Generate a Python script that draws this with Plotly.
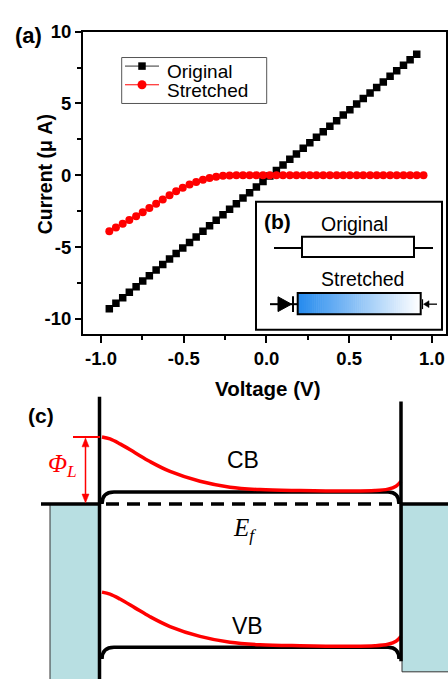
import plotly.graph_objects as go

W, H = 448, 679

# ---------------- data (panel a) ----------------
voltage = [-0.950, -0.910, -0.869, -0.829, -0.788, -0.748, -0.708, -0.667, -0.627, -0.586,
           -0.546, -0.506, -0.465, -0.425, -0.384, -0.344, -0.304, -0.263, -0.223, -0.182,
           -0.142, -0.102, -0.061, -0.021, 0.020, 0.060, 0.100, 0.141, 0.181, 0.222,
           0.262, 0.302, 0.343, 0.383, 0.424, 0.464, 0.504, 0.545, 0.585, 0.626,
           0.666, 0.706, 0.747, 0.787, 0.828, 0.868, 0.908, 0.949]

current_original = [-9.30, -8.91, -8.53, -8.14, -7.76, -7.37, -6.99, -6.60, -6.22, -5.83,
                    -5.45, -5.06, -4.68, -4.29, -3.90, -3.52, -3.13, -2.75, -2.36, -1.98,
                    -1.59, -1.21, -0.82, -0.44, -0.05, 0.34, 0.72, 1.11, 1.49, 1.88,
                    2.26, 2.65, 3.03, 3.42, 3.80, 4.19, 4.57, 4.96, 5.35, 5.73,
                    6.12, 6.50, 6.89, 7.27, 7.66, 8.04, 8.43]

current_stretched = [-3.90, -3.64, -3.38, -3.12, -2.85, -2.57, -2.28, -1.98, -1.68, -1.39,
                     -1.11, -0.86, -0.64, -0.46, -0.31, -0.19, -0.10, -0.04, -0.01, 0.0,
                     0.0, 0.0, 0.0, 0.0, 0.0, 0.0, 0.0, 0.0, 0.0, 0.0,
                     0.0, 0.0, 0.0, 0.0, 0.0, 0.0, 0.0, 0.0, 0.0, 0.0,
                     0.0, 0.0, 0.0, 0.0, 0.0, 0.0, 0.0, 0.0]

series_names = ["Original", "Stretched"]
x_ticks = [-1.0, -0.5, 0.0, 0.5, 1.0]
x_ticktext = ["-1.0", "-0.5", "0.0", "0.5", "1.0"]
y_ticks = [-10, -5, 0, 5, 10]
y_ticktext = ["-10", "-5", "0", "5", "10"]

# ---------------- schematic (panel c) ----------------
cb_red_x = [102, 110, 120, 135, 150, 170, 200, 230, 260, 300, 350, 375, 388, 396, 401]
cb_red_y = [433, 435, 440, 449, 458, 468, 478, 484, 486.5, 487.5, 488, 487.5, 486, 483, 478]
band_gap = 157.7

SANS = "Liberation Sans"
SERIF = "Liberation Serif"

fig = go.Figure()

# panel (a) data
fig.add_trace(go.Scatter(x=voltage[:len(current_original)], y=current_original,
                         mode="lines+markers", name=series_names[0],
                         line=dict(color="black", width=1),
                         marker=dict(symbol="square", size=7.5, color="black"),
                         xaxis="x", yaxis="y", showlegend=False))
fig.add_trace(go.Scatter(x=voltage, y=current_stretched,
                         mode="lines+markers", name=series_names[1],
                         line=dict(color="red", width=1),
                         marker=dict(symbol="circle", size=8, color="red"),
                         xaxis="x", yaxis="y", showlegend=False))

# legend glyphs (drawn in pixel space)
legend_rows = [(56, "black", "square", 7.5), (75, "red", "circle", 9)]
for yy, col, sym, sz in legend_rows:
    fig.add_trace(go.Scatter(x=[125, 159], y=[yy, yy], mode="lines",
                             line=dict(color="#333" if col == "black" else col, width=1),
                             xaxis="x2", yaxis="y2", showlegend=False, hoverinfo="skip"))
    fig.add_trace(go.Scatter(x=[142], y=[yy], mode="markers",
                             marker=dict(symbol=sym, size=sz, color=col),
                             xaxis="x2", yaxis="y2", showlegend=False, hoverinfo="skip"))

# band edges (red, stretched)
fig.add_trace(go.Scatter(x=cb_red_x, y=cb_red_y, mode="lines", line=dict(color="#ff0000", width=3.5, shape="spline"),
                         xaxis="x2", yaxis="y2", showlegend=False, hoverinfo="skip"))
fig.add_trace(go.Scatter(x=cb_red_x, y=[v + band_gap for v in cb_red_y], mode="lines",
                         line=dict(color="#ff0000", width=3.5, shape="spline"),
                         xaxis="x2", yaxis="y2", showlegend=False, hoverinfo="skip"))

shapes = []
# legend box
shapes.append(dict(type="rect", xref="x2", yref="y2", x0=121.7, x1=266.7, y0=47.3, y1=94,
                   line=dict(color="#555", width=1), fillcolor="rgba(0,0,0,0)", layer="below"))

# inset (b) box
shapes.append(dict(type="rect", xref="x2", yref="y2", x0=256, x1=442, y0=194, y1=324,
                   line=dict(color="black", width=2), fillcolor="white", layer="above"))
# original resistor
shapes.append(dict(type="line", xref="x2", yref="y2", x0=274, x1=433, y0=241, y1=241,
                   line=dict(color="black", width=2), layer="above"))
shapes.append(dict(type="rect", xref="x2", yref="y2", x0=302, x1=414, y0=229.5, y1=250,
                   line=dict(color="black", width=2), fillcolor="white", layer="above"))
# stretched: wires and diode
shapes.append(dict(type="line", xref="x2", yref="y2", x0=270, x1=298, y0=298, y1=298,
                   line=dict(color="black", width=2), layer="above"))
shapes.append(dict(type="path", xref="x2", yref="y2", path="M 278,290.5 L 291.5,298 L 278,305.5 Z",
                   line=dict(color="black", width=1), fillcolor="black", layer="above"))
shapes.append(dict(type="line", xref="x2", yref="y2", x0=293, x1=293, y0=290, y1=306,
                   line=dict(color="black", width=2), layer="above"))
# gradient body
n_grad = 60
gx0, gx1 = 297.7, 420.7
c0 = (38, 139, 238)
for i in range(n_grad):
    t = i / (n_grad - 1)
    col = tuple(int(round(c0[k] + (255 - c0[k]) * t)) for k in range(3))
    shapes.append(dict(type="rect", xref="x2", yref="y2",
                       x0=gx0 + (gx1 - gx0) * i / n_grad, x1=gx0 + (gx1 - gx0) * (i + 1) / n_grad + 0.6,
                       y0=286.7, y1=308.3, line=dict(width=0),
                       fillcolor="rgb(%d,%d,%d)" % col, layer="above"))
shapes.append(dict(type="rect", xref="x2", yref="y2", x0=gx0, x1=gx1, y0=286.7, y1=308.3,
                   line=dict(color="black", width=2), fillcolor="rgba(0,0,0,0)", layer="above"))
# small compressive arrow on the right of the stretched element
shapes.append(dict(type="line", xref="x2", yref="y2", x0=422.5, x1=422.5, y0=293, y1=303,
                   line=dict(color="black", width=1.2), layer="above"))
shapes.append(dict(type="line", xref="x2", yref="y2", x0=426, x1=437, y0=298, y1=298,
                   line=dict(color="black", width=1.3), layer="above"))
shapes.append(dict(type="path", xref="x2", yref="y2", path="M 423.5,298 L 429,294.5 L 429,301.5 Z",
                   line=dict(color="black", width=0.5), fillcolor="black", layer="above"))

# panel (c): electrodes
shapes.append(dict(type="rect", xref="x2", yref="y2", x0=50, x1=99, y0=501, y1=680,
                   line=dict(color="#333", width=1), fillcolor="#b8dfe2", layer="below"))
shapes.append(dict(type="rect", xref="x2", yref="y2", x0=402, x1=449, y0=501, y1=671.7,
                   line=dict(color="#333", width=1), fillcolor="#b8dfe2", layer="below"))
# Fermi level of metals
shapes.append(dict(type="line", xref="x2", yref="y2", x0=41, x1=100, y0=501, y1=501,
                   line=dict(color="black", width=3.5), layer="above"))
shapes.append(dict(type="line", xref="x2", yref="y2", x0=401, x1=448, y0=501, y1=501,
                   line=dict(color="black", width=3.5), layer="above"))
shapes.append(dict(type="line", xref="x2", yref="y2", x0=106, x1=398, y0=501, y1=501,
                   line=dict(color="black", width=3.5, dash="13px,8px"), layer="above"))
# interfaces
shapes.append(dict(type="line", xref="x2", yref="y2", x0=99.5, x1=99.5, y0=392, y1=680,
                   line=dict(color="black", width=3.5), layer="above"))
shapes.append(dict(type="line", xref="x2", yref="y2", x0=401, x1=401, y0=397, y1=661,
                   line=dict(color="black", width=3.5), layer="above"))
# band edges (black, original)
for off in (0, band_gap):
    yb = 489 + off
    ye = 501 + off
    shapes.append(dict(type="path", xref="x2", yref="y2",
                       path="M 102,%.1f Q 102,%.1f 114,%.1f L 388,%.1f Q 399,%.1f 399,%.1f" % (ye, yb, yb, yb, yb, ye),
                       line=dict(color="black", width=3.5), layer="below"))
# barrier height marker: level line + double arrow
shapes.append(dict(type="line", xref="x2", yref="y2", x0=73, x1=100, y0=433, y1=433,
                   line=dict(color="red", width=2), layer="above"))
shapes.append(dict(type="line", xref="x2", yref="y2", x0=85.5, x1=85.5, y0=440, y1=494,
                   line=dict(color="red", width=1.5), layer="above"))
shapes.append(dict(type="path", xref="x2", yref="y2", path="M 85.5,434 L 82,443 L 89,443 Z",
                   line=dict(color="red", width=0.5), fillcolor="red", layer="above"))
shapes.append(dict(type="path", xref="x2", yref="y2", path="M 85.5,500 L 82,491 L 89,491 Z",
                   line=dict(color="red", width=0.5), fillcolor="red", layer="above"))

annotations = []


def txt(x, y, s, size, bold=False, color="black", family=SANS, xanchor="center", angle=0):
    annotations.append(dict(x=x, y=y, xref="x2", yref="y2", text=s, showarrow=False,
                            xanchor=xanchor, yanchor="middle", textangle=angle,
                            font=dict(family=family, size=size, color=color,
                                      weight="bold" if bold else "normal")))


txt(28, 25, "(a)", 22, bold=True)
txt(45, 166, "Current (μ A)", 19.5, bold=True, angle=-90)
txt(268, 384, "Voltage (V)", 20.5, bold=True)
txt(165, 61, series_names[0], 19, xanchor="left")
txt(165, 80.5, series_names[1], 19, xanchor="left")
txt(277.5, 214, "(b)", 21, bold=True)
txt(354, 217, "Original", 19.5)
txt(362, 272.5, "Stretched", 19.5)
txt(41, 411, "(c)", 21, bold=True)
txt(243, 456, "CB", 23)
txt(247, 625, "VB", 23)
txt(244, 527, "<i>E</i><sub><i>f</i></sub>", 25, family=SERIF)
txt(62, 462, "<i>Φ</i><sub><i>L</i></sub>", 25, family=SERIF, color="red")

tickfont = dict(family=SANS, size=18.5, color="black", weight="bold")

fig.update_layout(
    width=W, height=H,
    margin=dict(l=0, r=0, t=0, b=0),
    paper_bgcolor="white", plot_bgcolor="rgba(0,0,0,0)",
    showlegend=False,
    xaxis=dict(domain=[83 / W, 446 / W], range=[-1.109, 1.085], anchor="y",
               showline=True, linewidth=2, linecolor="black", mirror=True,
               ticks="outside", ticklen=7, tickwidth=2, tickcolor="black",
               tickmode="array", tickvals=x_ticks, ticktext=x_ticktext, tickfont=tickfont,
               minor=dict(tickmode="linear", tick0=0, dtick=0.25, ticks="outside",
                          ticklen=4, tickwidth=2, tickcolor="black"),
               showgrid=False, zeroline=False, fixedrange=True),
    yaxis=dict(domain=[1 - 328 / H, 1 - 21 / H], range=[-11.03, 10], anchor="x",
               showline=True, linewidth=2, linecolor="black", mirror=True,
               ticks="outside", ticklen=6, tickwidth=2, tickcolor="black",
               tickmode="array", tickvals=y_ticks, ticktext=y_ticktext, tickfont=tickfont,
               minor=dict(tickmode="linear", tick0=0, dtick=2.5, ticks="outside",
                          ticklen=4, tickwidth=2, tickcolor="black"),
               showgrid=False, zeroline=False, fixedrange=True),
    xaxis2=dict(domain=[0, 1], range=[0, W], anchor="y2", visible=False, fixedrange=True),
    yaxis2=dict(domain=[0, 1], range=[H, 0], anchor="x2", visible=False, fixedrange=True),
    shapes=shapes,
    annotations=annotations,
)

fig.write_html("out.html")
